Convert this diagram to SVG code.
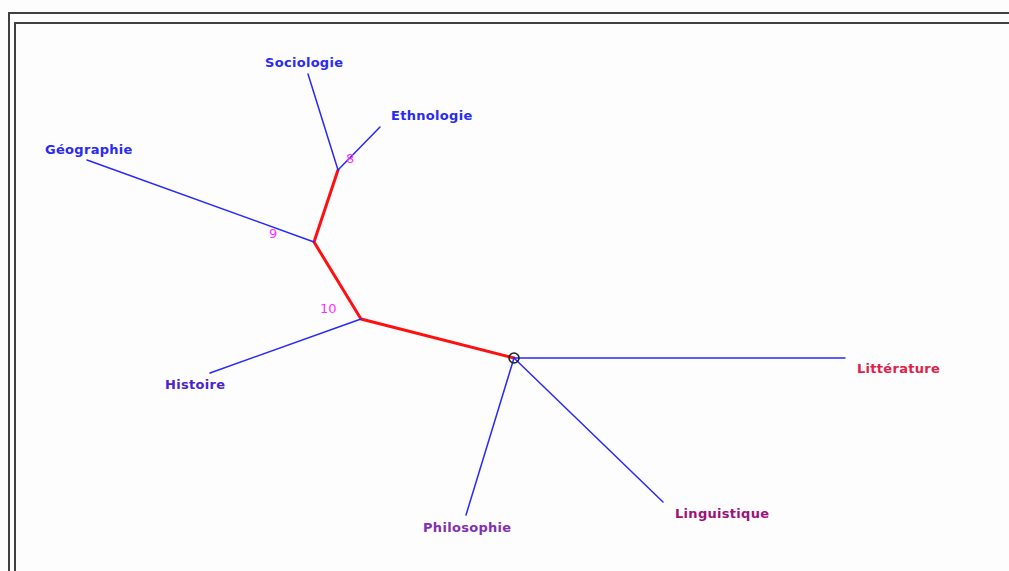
<svg xmlns="http://www.w3.org/2000/svg" width="1009" height="571" viewBox="0 0 1009 571">
  <style>
    .frame { fill: none; stroke: #404040; stroke-width: 2; }
    .edge { fill: none; stroke: #2828ff; stroke-width: 1.5; stroke-linecap: round; }
    .path { fill: none; stroke: #ff1010; stroke-width: 3; stroke-linejoin: round; stroke-linecap: round; }
    .lbl { font-family: "DejaVu Sans", Verdana, sans-serif; font-size: 13px; font-weight: bold; letter-spacing: 0.3px; }
    .num { font-family: "DejaVu Sans", Verdana, sans-serif; font-size: 13px; fill: #ff30ff; }
  </style>
  <rect width="1009" height="571" fill="#fdfdfd"/>
  <!-- double window frame -->
  <path class="frame" d="M9,571 V13 H1009"/>
  <path class="frame" d="M15,571 V23 H1009"/>

  <g id="connectors">
    <polyline class="path" points="514,358 361,319 314,242 338,170"/>
    <line class="edge" x1="514" y1="358" x2="845" y2="358"/>
    <line class="edge" x1="514" y1="358" x2="663" y2="502"/>
    <line class="edge" x1="514" y1="358" x2="466" y2="515"/>
    <line class="edge" x1="361" y1="319" x2="210" y2="373"/>
    <line class="edge" x1="314" y1="242" x2="87" y2="160"/>
    <line class="edge" x1="338" y1="170" x2="308" y2="74"/>
    <line class="edge" x1="338" y1="170" x2="380" y2="127"/>
  </g>

  <g id="root">
    <circle cx="514" cy="358" r="5" fill="none" stroke="#202020" stroke-width="1.6"/>
  </g>
  <g id="n8"><text class="num" x="346" y="163">8</text></g>
  <g id="n9"><text class="num" x="269" y="238">9</text></g>
  <g id="n10"><text class="num" x="320" y="313">10</text></g>

  <g id="sociologie"><text class="lbl" x="265" y="67" fill="#2a2af0">Sociologie</text></g>
  <g id="ethnologie"><text class="lbl" x="391" y="120" fill="#2a2af0">Ethnologie</text></g>
  <g id="geographie"><text class="lbl" x="45" y="154" fill="#2a2af0">Géographie</text></g>
  <g id="histoire"><text class="lbl" x="165" y="389" fill="#4a22d0">Histoire</text></g>
  <g id="philosophie"><text class="lbl" x="423" y="532" fill="#8030b0">Philosophie</text></g>
  <g id="linguistique"><text class="lbl" x="675" y="518" fill="#a01078">Linguistique</text></g>
  <g id="litterature"><text class="lbl" x="857" y="373" fill="#e0204a">Littérature</text></g>
</svg>
